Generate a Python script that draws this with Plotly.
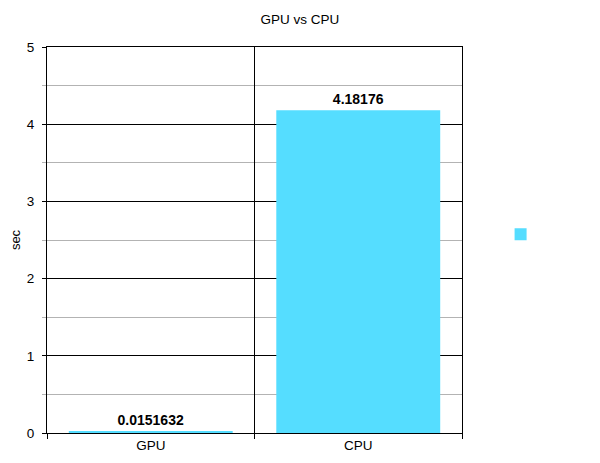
import plotly.graph_objects as go

categories = ["GPU", "CPU"]
values = [0.0151632, 4.18176]
value_labels = ["0.0151632", "4.18176"]
y_ticks = [0, 1, 2, 3, 4, 5]

FONT = "Liberation Sans, Arial, sans-serif"

fig = go.Figure()
fig.add_trace(go.Bar(
    x=categories, y=values, name=" ",
    marker=dict(color="#55DDFF", line=dict(width=0)),
    width=0.79,
    text=value_labels, textposition="outside", cliponaxis=False,
    textfont=dict(family=FONT, size=14, color="#000000"),
    texttemplate="<b>%{text}</b>",
    showlegend=True,
))

fig.update_layout(
    width=600, height=463,
    margin=dict(l=39, r=146, t=39, b=38, autoexpand=False),
    paper_bgcolor="white", plot_bgcolor="white",
    font=dict(family=FONT, size=13, color="#000000"),
    title=dict(text="GPU vs CPU", x=292 / 600, xref="container", xanchor="center",
               y=0.976, yref="container", yanchor="middle",
               font=dict(family=FONT, size=13.5, color="#000000")),
    showlegend=True,
    legend=dict(x=1.093, y=0.515, xanchor="left", yanchor="middle",
                bgcolor="rgba(0,0,0,0)", font=dict(size=1)),
)
fig.update_xaxes(
    type="category", range=[-0.5, 1.5], automargin=False,
    tickson="boundaries", ticks="outside", ticklen=5, tickcolor="#000000",
    showgrid=True, gridcolor="#000000", gridwidth=1,
    showline=True, mirror=True, linecolor="#000000", linewidth=1,
    tickfont=dict(family=FONT, size=13.5, color="#000000"),
    fixedrange=True,
)
fig.update_yaxes(
    range=[0, 5], tickvals=y_ticks, ticks="outside", ticklen=4, tickcolor="#000000",
    automargin=False,
    showgrid=True, gridcolor="#000000", gridwidth=1,
    zeroline=False, showline=True, mirror=True, linecolor="#000000", linewidth=1,
    ticklabelstandoff=5,
    minor=dict(dtick=0.5, showgrid=True, gridcolor="#b3b3b3", ticks="outside",
               ticklen=4, tickcolor="#b3b3b3"),
    title=dict(text="sec", font=dict(family=FONT, size=13, color="#000000"), standoff=14),
    tickfont=dict(family=FONT, size=13.5, color="#000000"),
)

fig.write_html("out.html")
